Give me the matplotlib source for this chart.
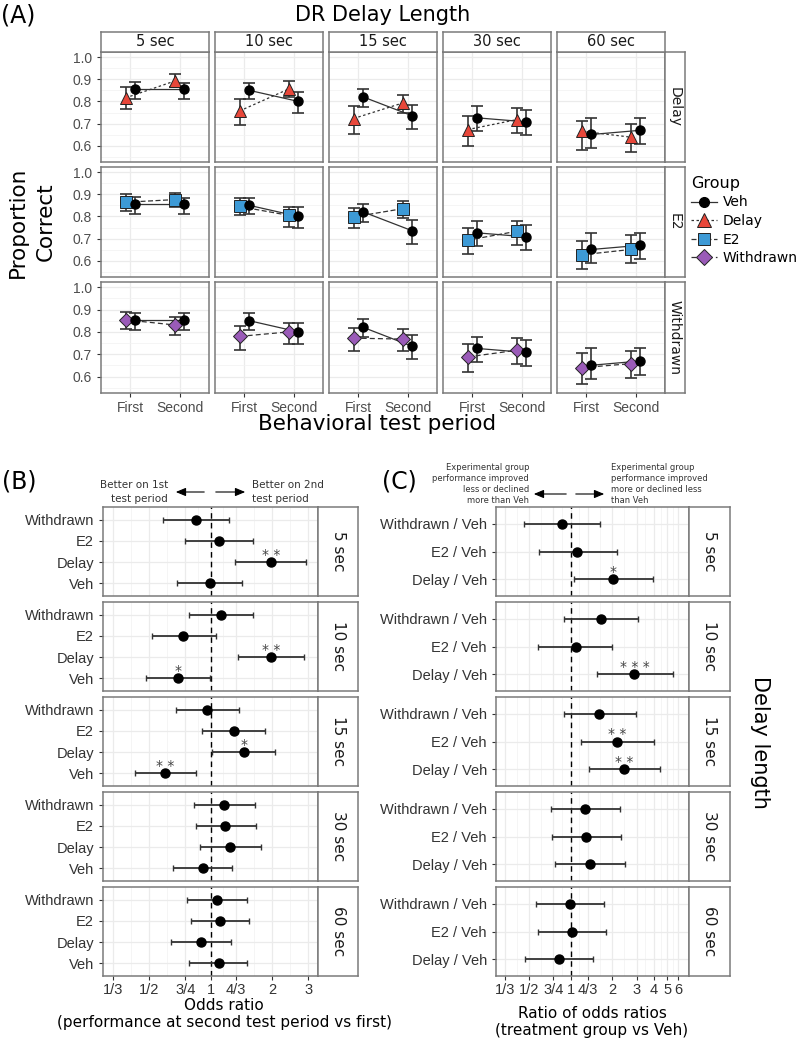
import numpy as np
import matplotlib
matplotlib.use("Agg")
import matplotlib.pyplot as plt
from matplotlib.lines import Line2D
from matplotlib.ticker import FixedLocator, NullFormatter

# ---------------- data ----------------
delays = ["5 sec", "10 sec", "15 sec", "30 sec", "60 sec"]
periods = ["First", "Second"]
groups = ["Veh", "Delay", "E2", "Withdrawn"]

# Panel A: proportion correct (mean, lower, upper) per delay x period
veh_mean = [[0.854, 0.854], [0.850, 0.800], [0.820, 0.735], [0.726, 0.708], [0.651, 0.670]]
veh_lo = [[0.810, 0.810], [0.810, 0.748], [0.776, 0.677], [0.666, 0.648], [0.590, 0.606]]
veh_hi = [[0.886, 0.885], [0.885, 0.842], [0.858, 0.784], [0.778, 0.763], [0.727, 0.727]]

delay_mean = [[0.816, 0.892], [0.757, 0.856], [0.723, 0.793], [0.673, 0.718], [0.666, 0.639]]
delay_lo = [[0.765, 0.865], [0.696, 0.822], [0.655, 0.748], [0.600, 0.660], [0.583, 0.573]]
delay_hi = [[0.863, 0.926], [0.811, 0.892], [0.781, 0.830], [0.736, 0.772], [0.711, 0.700]]

e2_mean = [[0.864, 0.876], [0.845, 0.805], [0.798, 0.835], [0.693, 0.733], [0.627, 0.651]]
e2_lo = [[0.825, 0.841], [0.805, 0.753], [0.746, 0.795], [0.630, 0.670], [0.561, 0.590]]
e2_hi = [[0.900, 0.906], [0.881, 0.843], [0.840, 0.868], [0.750, 0.780], [0.690, 0.716]]

wd_mean = [[0.854, 0.831], [0.780, 0.800], [0.772, 0.768], [0.688, 0.718], [0.640, 0.658]]
wd_lo = [[0.813, 0.786], [0.720, 0.748], [0.713, 0.713], [0.622, 0.658], [0.568, 0.595]]
wd_hi = [[0.888, 0.868], [0.827, 0.838], [0.818, 0.813], [0.748, 0.772], [0.705, 0.715]]

# Panel B: odds ratio (second vs first); rows Withdrawn, E2, Delay, Veh
b_labels = ["Withdrawn", "E2", "Delay", "Veh"]
b_or = [[0.846, 1.097, 1.97, 0.99],
        [1.12, 0.734, 1.97, 0.689],
        [0.96, 1.294, 1.448, 0.599],
        [1.16, 1.178, 1.246, 0.913],
        [1.068, 1.105, 0.892, 1.093]]
b_lo = [[0.582, 0.745, 1.32, 0.681],
        [0.785, 0.516, 1.354, 0.482],
        [0.676, 0.903, 1.01, 0.426],
        [0.825, 0.844, 0.885, 0.656],
        [0.762, 0.797, 0.636, 0.785]]
b_hi = [[1.228, 1.61, 2.92, 1.43],
        [1.61, 1.06, 2.85, 0.99],
        [1.38, 1.85, 2.07, 0.846],
        [1.645, 1.66, 1.76, 1.274],
        [1.50, 1.537, 1.25, 1.51]]
b_sig = [["", "", "**", ""],
         ["", "", "**", "*"],
         ["", "", "*", "**"],
         ["", "", "", ""],
         ["", "", "", ""]]
b_ticks = [1/3, 1/2, 3/4, 1, 4/3, 2, 3]
b_ticklabels = ["1/3", "1/2", "3/4", "1", "4/3", "2", "3"]

# Panel C: ratio of odds ratios (treatment vs Veh)
c_labels = ["Withdrawn / Veh", "E2 / Veh", "Delay / Veh"]
c_ror = [[0.87, 1.12, 2.02],
         [1.65, 1.085, 2.89],
         [1.616, 2.18, 2.45],
         [1.28, 1.30, 1.385],
         [0.99, 1.02, 0.827]]
c_lo = [[0.463, 0.593, 1.056],
        [0.895, 0.584, 1.56],
        [0.895, 1.19, 1.35],
        [0.724, 0.733, 0.774],
        [0.562, 0.58, 0.47]]
c_hi = [[1.635, 2.16, 3.92],
        [3.06, 1.995, 5.47],
        [2.97, 4.01, 4.45],
        [2.29, 2.32, 2.48],
        [1.75, 1.80, 1.455]]
c_sig = [["", "", "*"],
         ["", "", "***"],
         ["", "**", "**"],
         ["", "", ""],
         ["", "", ""]]
c_ticks = [1/3, 1/2, 3/4, 1, 4/3, 2, 3, 4, 5, 6]
c_ticklabels = ["1/3", "1/2", "3/4", "1", "4/3", "2", "3", "4", "5", "6"]

# ---------------- style ----------------
plt.rcParams['font.family'] = ['DejaVu Sans']
TICKFONT = 'Liberation Sans'
BORDER = '#7a7a7a'
GRID = '#ebebeb'
TXT = '#4d4d4d'
DARK = '#333333'

W, H = 800, 1040
fig = plt.figure(figsize=(8, 10.4), dpi=100)


def add_ax(x0, y0, x1, y1, **kw):
    return fig.add_axes([x0 / W, 1 - y1 / H, (x1 - x0) / W, (y1 - y0) / H], **kw)


def style_panel(ax):
    for s in ax.spines.values():
        s.set_color(BORDER)
        s.set_linewidth(1.1)
    ax.set_axisbelow(True)
    ax.grid(True, which='major', color=GRID, lw=0.9)
    ax.grid(True, which='minor', color='#f2f2f2', lw=0.5)
    ax.tick_params(which='both', colors=DARK, labelcolor=TXT, labelsize=10, width=0.8)
    ax.tick_params(which='minor', length=0)


def strip(x0, y0, x1, y1, text, rot=0, size=10.5):
    s = add_ax(x0, y0, x1, y1)
    s.set_xticks([]); s.set_yticks([])
    s.set_facecolor('white')
    for sp in s.spines.values():
        sp.set_color(BORDER); sp.set_linewidth(1.1)
    s.text(0.5, 0.5, text, transform=s.transAxes, ha='center', va='center',
           rotation=rot, fontsize=size, color='#1a1a1a')
    return s


# ---------------- Panel A ----------------
colA = [(101, 209), (215, 323), (329, 437), (443, 551), (557, 665)]
rowA = [(52, 162), (167, 277), (282, 393)]
treat = [
    ("Delay", delay_mean, delay_lo, delay_hi, '^', '#e8473a', (0, (2, 2)), 9),
    ("E2", e2_mean, e2_lo, e2_hi, 's', '#3d9ad6', (0, (4, 2)), 8),
    ("Withdrawn", wd_mean, wd_lo, wd_hi, 'D', '#9a5bb8', (0, (4, 2.5)), 7),
]
xpos = np.arange(1, len(periods) + 1)
dodge = 0.1
for r, (name, mn, lo, hi, mk, col, ls, ms) in enumerate(treat):
    for c, d in enumerate(delays):
        x0, x1 = colA[c]
        y0, y1 = rowA[r]
        ax = add_ax(x0, y0, x1, y1)
        style_panel(ax)
        m = np.array(mn[c]); l = np.array(lo[c]); h = np.array(hi[c])
        vm = np.array(veh_mean[c]); vl = np.array(veh_lo[c]); vh = np.array(veh_hi[c])
        xt = xpos - dodge
        xv = xpos + dodge
        ax.plot(xt, m, ls=ls, color=DARK, lw=0.9, zorder=2)
        ax.plot(xv, vm, ls='-', color=DARK, lw=0.9, zorder=2)
        ax.errorbar(xt, m, yerr=[m - l, h - m], fmt='none', ecolor=DARK,
                    elinewidth=1.2, capsize=4, capthick=1.2, zorder=3)
        ax.errorbar(xv, vm, yerr=[vm - vl, vh - vm], fmt='none', ecolor=DARK,
                    elinewidth=1.2, capsize=4, capthick=1.2, zorder=3)
        ax.plot(xt, m, ls='none', marker=mk, ms=ms, mfc=col, mec='#222222', mew=0.7, zorder=4)
        ax.plot(xv, vm, ls='none', marker='o', ms=6.5, mfc='black', mec='black', zorder=4)
        ax.set_xlim(0.4, 2.6)
        ax.set_ylim(0.527, 1.023)
        ax.set_xticks(xpos)
        ax.set_yticks([0.6, 0.7, 0.8, 0.9, 1.0])
        ax.yaxis.set_minor_locator(FixedLocator([0.55, 0.65, 0.75, 0.85, 0.95]))
        if c == 0:
            ax.set_yticklabels(["0.6", "0.7", "0.8", "0.9", "1.0"], fontfamily=TICKFONT)
            ax.tick_params(axis='y', length=3)
        else:
            ax.set_yticklabels([])
            ax.tick_params(axis='y', which='major', length=0)
        if r == len(treat) - 1:
            ax.set_xticklabels(periods, fontfamily=TICKFONT)
            ax.tick_params(axis='x', length=3, pad=3)
        else:
            ax.set_xticklabels([])
            ax.tick_params(axis='x', which='major', length=0)
    strip(665, rowA[r][0], 685, rowA[r][1], name, rot=-90, size=10)

for c, d in enumerate(delays):
    strip(colA[c][0], 32, colA[c][1], 52, d, size=10.5)

fig.text(383 / W, 1 - 15 / H, "DR Delay Length", ha='center', va='center', fontsize=15)
fig.text(18 / W, 1 - 16 / H, "(A)", ha='center', va='center', fontsize=17)
fig.text(32 / W, 1 - 222 / H, "Proportion\nCorrect", ha='center', va='center',
         rotation=90, fontsize=15.5, linespacing=1.5)
fig.text(377 / W, 1 - 424 / H, "Behavioral test period", ha='center', va='center', fontsize=15.5)

handles = [Line2D([0], [0], color=DARK, lw=0.9, ls='-', marker='o', ms=7, mfc='black', mec='black')]
for (name, mn, lo, hi, mk, col, ls, ms) in treat:
    handles.append(Line2D([0], [0], color=DARK, lw=0.9, ls=ls, marker=mk, ms=ms + 1,
                          mfc=col, mec='#222222', mew=0.7))
leg = fig.legend(handles, groups, title="Group", loc='upper left',
                 bbox_to_anchor=(688 / W, 1 - 173 / H), frameon=False, fontsize=10,
                 title_fontsize=11.5, handlelength=1.9, labelspacing=0.33,
                 handletextpad=0.4, borderaxespad=0, borderpad=0.2, alignment='left')

# ---------------- Panels B and C ----------------
rowB = [(507, 596), (602, 691), (697, 786), (792, 881), (887, 976)]


def forest(xa, xb, xs, labels, est, lo, hi, sig, ticks, ticklabels, xlim):
    n = len(labels)
    ypos = np.arange(n, 0, -1)
    mids = [np.sqrt(a * b) for a, b in zip(ticks[:-1], ticks[1:])]
    for r, d in enumerate(delays):
        y0, y1 = rowB[r]
        ax = add_ax(xa, y0, xb, y1)
        style_panel(ax)
        ax.set_xscale('log')
        ax.set_xlim(*xlim)
        ax.set_ylim(0.4, n + 0.6)
        ax.axvline(1, color='black', lw=1.0, ls=(0, (4, 3)), zorder=2)
        e = np.array(est[r]); l = np.array(lo[r]); h = np.array(hi[r])
        ax.errorbar(e, ypos, xerr=[e - l, h - e], fmt='o', ms=6.5, mfc='black', mec='black',
                    ecolor=DARK, elinewidth=1.3, capsize=2, capthick=1.0, zorder=3)
        for k in range(n):
            if sig[r][k]:
                ax.annotate(" ".join(sig[r][k]) if len(sig[r][k]) > 1 else sig[r][k],
                            (e[k], ypos[k]), xytext=(0, 2.5), textcoords='offset points',
                            ha='center', va='baseline', fontsize=10, color='#444444')
        ax.set_yticks(ypos)
        ax.set_yticklabels(labels, fontfamily=TICKFONT, fontsize=10.5, color=DARK)
        ax.tick_params(axis='y', length=3)
        ax.xaxis.set_major_locator(FixedLocator(ticks))
        ax.xaxis.set_minor_locator(FixedLocator(mids))
        ax.xaxis.set_minor_formatter(NullFormatter())
        if r == len(delays) - 1:
            ax.set_xticklabels(ticklabels, fontfamily=TICKFONT, fontsize=10.5, color=DARK)
            ax.tick_params(axis='x', length=3, pad=2)
        else:
            ax.set_xticklabels([])
            ax.tick_params(axis='x', which='major', length=0)
        strip(xb, y0, xs, y1, d, rot=-90, size=11)


forest(103, 318, 358, b_labels, b_or, b_lo, b_hi, b_sig, b_ticks, b_ticklabels, (0.297, 3.35))
forest(496, 689, 730, c_labels, c_ror, c_lo, c_hi, c_sig, c_ticks, c_ticklabels, (0.289, 7.17))

fig.text(224 / W, 1 - 1014 / H, "Odds ratio\n(performance at second test period vs first)",
         ha='center', va='center', fontsize=11, linespacing=1.2)
fig.text(592 / W, 1 - 1022 / H, "Ratio of odds ratios\n(treatment group vs Veh)",
         ha='center', va='center', fontsize=11, linespacing=1.2)
fig.text(760 / W, 1 - 742 / H, "Delay length", ha='center', va='center', rotation=-90, fontsize=15)
fig.text(19 / W, 1 - 482 / H, "(B)", ha='center', va='center', fontsize=17)
fig.text(399 / W, 1 - 481 / H, "(C)", ha='center', va='center', fontsize=17)

# header annotations
ov = fig.add_axes([0, 0, 1, 1], zorder=10)
ov.set_xlim(0, W); ov.set_ylim(H, 0); ov.axis('off')
arrow_kw = dict(arrowstyle='-|>,head_length=0.6,head_width=0.25', color='black', lw=0.8)
ov.annotate("", xy=(173, 492), xytext=(207, 492), arrowprops=arrow_kw)
ov.annotate("", xy=(248, 492), xytext=(213, 492), arrowprops=arrow_kw)
ov.text(168, 492, "Better on 1st\ntest period", ha='right', va='center', fontsize=7.5,
        color=DARK, linespacing=1.45)
ov.text(252, 492, "Better on 2nd\ntest period", ha='left', va='center', fontsize=7.5,
        color=DARK, linespacing=1.45)
ov.annotate("", xy=(531, 494), xytext=(569, 494), arrowprops=arrow_kw)
ov.annotate("", xy=(607, 494), xytext=(573, 494), arrowprops=arrow_kw)
ov.text(529, 484, "Experimental group\nperformance improved\nless or declined\nmore than Veh",
        ha='right', va='center', fontsize=6, color=DARK, linespacing=1.3)
ov.text(611, 484, "Experimental group\nperformance improved\nmore or declined less\nthan Veh",
        ha='left', va='center', fontsize=6, color=DARK, linespacing=1.3)

fig.savefig("out.png", dpi=100)
